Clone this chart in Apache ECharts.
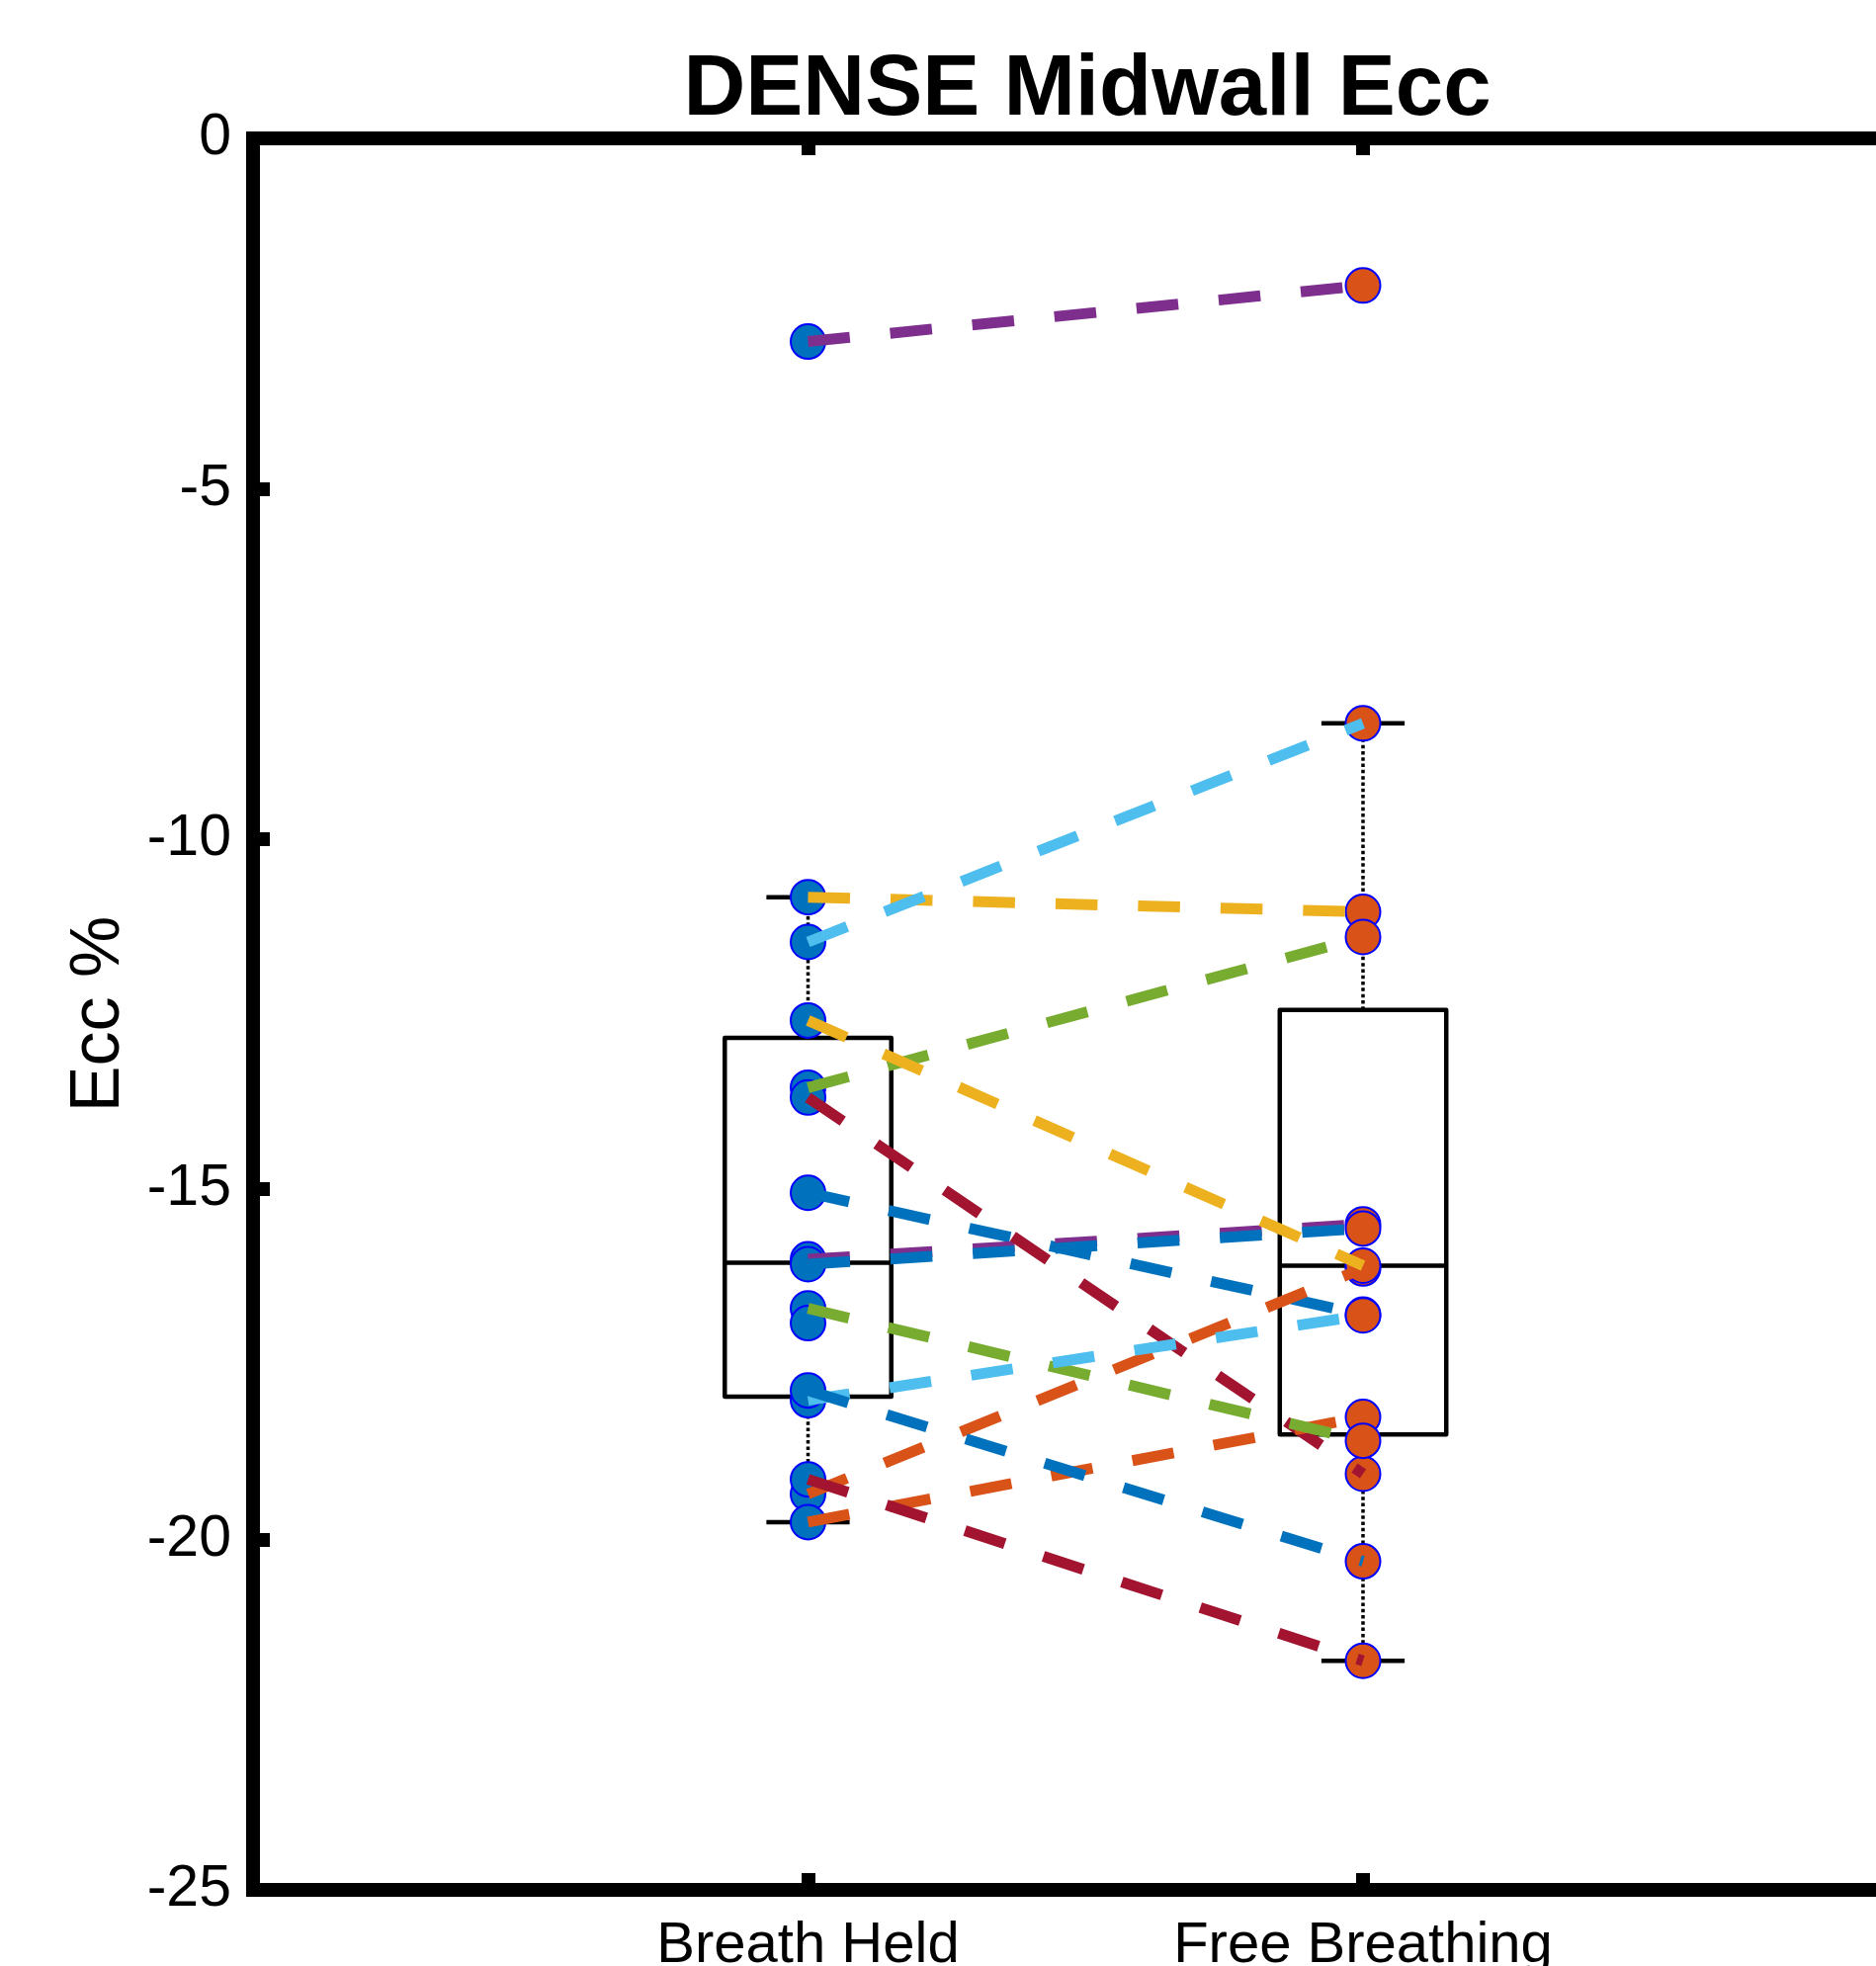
<!DOCTYPE html>
<html>
<head>
<meta charset="utf-8">
<title>DENSE Midwall Ecc</title>
<script src="https://cdn.jsdelivr.net/npm/echarts@6.0.0/dist/echarts.min.js"></script>
<style>
  html, body { margin: 0; padding: 0; background: #ffffff; }
  #chart { width: 1898px; height: 1989px; }
</style>
</head>
<body>
<div id="chart"></div>
<script>
// ---------------- data ----------------
const categories = ['Breath Held', 'Free Breathing'];
const chartTitle = 'DENSE Midwall Ecc';
const yAxisName = 'Ecc %';

// one entry per subject, paired (Breath Held -> Free Breathing)
const breathHeld    = [-15.05, -19.35, -10.83, -16.00, -13.55, -11.47, -13.69, -16.07,
                       -19.75, -12.59,  -2.90, -16.70, -18.01, -19.14, -17.87, -16.91];
const freeBreathing = [-16.79, -16.13, -11.04, -15.50, -11.40,  -8.35, -19.06, -15.56,
                       -18.25, -16.09,  -2.10, -18.59, -16.80, -21.73, -20.31, null];

// box statistics: [lower whisker, Q1, median, Q3, upper whisker]
const boxBreathHeld    = [-19.75, -17.96, -16.05, -12.84, -10.83];
const boxFreeBreathing = [-21.73, -18.50, -16.09, -12.44, -8.35];

// y-axis ticks
const yMin = -25, yMax = 0, yStep = 5;

// MATLAB default line colour order
const lineColors = ['#0072BD', '#D95319', '#EDB120', '#7E2F8E', '#77AC30', '#4DBEEE', '#A2142F'];

// ---------------- styles ----------------
const FONT = "'Liberation Sans', Arial, Helvetica, sans-serif";
const AXIS_W = 14;
const BOX_HALF = 0.15;
const CAP_HALF = 0.075;

const chart = echarts.init(document.getElementById('chart'), null, { renderer: 'canvas' });

function axisCommon() {
  return {
    axisLine: { show: true, onZero: false, lineStyle: { color: '#000', width: AXIS_W, cap: 'square' } },
    axisTick: { show: true, inside: true, length: 17, lineStyle: { color: '#000', width: AXIS_W } },
    splitLine: { show: false },
    minorTick: { show: false }
  };
}

const boxData = [[1].concat(boxBreathHeld), [2].concat(boxFreeBreathing)];

function renderBox(params, api) {
  const x = api.value(0);
  const lo = api.value(1), q1 = api.value(2), med = api.value(3), q3 = api.value(4), hi = api.value(5);
  const tl = api.coord([x - BOX_HALF, q3]);
  const br = api.coord([x + BOX_HALF, q1]);
  const cTop = api.coord([x, q3]);
  const cHi = api.coord([x, hi]);
  const cBot = api.coord([x, q1]);
  const cLo = api.coord([x, lo]);
  const capL1 = api.coord([x - CAP_HALF, hi]);
  const capR1 = api.coord([x + CAP_HALF, hi]);
  const capL2 = api.coord([x - CAP_HALF, lo]);
  const capR2 = api.coord([x + CAP_HALF, lo]);
  const mL = api.coord([x - BOX_HALF, med]);
  const mR = api.coord([x + BOX_HALF, med]);
  const dotted = { stroke: '#000', lineWidth: 3.5, lineDash: [3.5, 2.8], fill: null };
  const solid = { stroke: '#000', lineWidth: 4.5, fill: null, lineJoin: 'round' };
  return {
    type: 'group',
    children: [
      { type: 'line', shape: { x1: cTop[0], y1: cTop[1], x2: cHi[0], y2: cHi[1] }, style: dotted },
      { type: 'line', shape: { x1: cBot[0], y1: cBot[1], x2: cLo[0], y2: cLo[1] }, style: dotted },
      { type: 'line', shape: { x1: capL1[0], y1: capL1[1], x2: capR1[0], y2: capR1[1] }, style: solid },
      { type: 'line', shape: { x1: capL2[0], y1: capL2[1], x2: capR2[0], y2: capR2[1] }, style: solid },
      { type: 'rect', shape: { x: tl[0], y: tl[1], width: br[0] - tl[0], height: br[1] - tl[1] }, style: solid },
      { type: 'line', shape: { x1: mL[0], y1: mL[1], x2: mR[0], y2: mR[1] }, style: solid }
    ]
  };
}

const series = [];
series.push({
  type: 'custom',
  name: 'box',
  renderItem: renderBox,
  data: boxData,
  encode: { x: 0, y: [1, 2, 3, 4, 5] },
  silent: true,
  clip: false,
  z: 2
});
series.push({
  type: 'scatter',
  name: categories[0],
  data: breathHeld.filter(v => v != null).map(v => [1, v]),
  symbol: 'circle',
  symbolSize: 35,
  itemStyle: { color: '#0072BD', borderColor: '#0000FF', borderWidth: 2, opacity: 1 },
  silent: true,
  z: 3
});
series.push({
  type: 'scatter',
  name: categories[1],
  data: freeBreathing.filter(v => v != null).map(v => [2, v]),
  symbol: 'circle',
  symbolSize: 35,
  itemStyle: { color: '#D95319', borderColor: '#0000FF', borderWidth: 2, opacity: 1 },
  silent: true,
  z: 3
});
breathHeld.forEach((bh, i) => {
  const fb = freeBreathing[i];
  if (bh == null || fb == null) return;
  series.push({
    type: 'line',
    name: 'subject ' + (i + 1),
    data: [[1, bh], [2, fb]],
    symbol: 'none',
    showSymbol: false,
    silent: true,
    lineStyle: { color: lineColors[i % lineColors.length], width: 11, type: [42.5, 41], cap: 'butt' },
    z: 4
  });
});

const option = {
  animation: false,
  backgroundColor: '#ffffff',
  title: {
    text: chartTitle,
    left: 1100,
    top: 49,
    textAlign: 'center',
    padding: 0,
    textStyle: { fontFamily: FONT, fontSize: 87, fontWeight: 'bold', color: '#000' }
  },
  grid: {
    left: 256, top: 140, right: -42.5, bottom: 77,
    containLabel: false,
    outerBoundsMode: 'none'
  },
  xAxis: [
    Object.assign(axisCommon(), {
      type: 'value', position: 'bottom', min: 0, max: 3, interval: 1,
      axisLabel: {
        show: true, margin: 28, fontSize: 58, fontFamily: FONT, color: '#000',
        showMinLabel: true, showMaxLabel: true,
        formatter: v => (v === 1 ? categories[0] : (v === 2 ? categories[1] : ''))
      }
    }),
    Object.assign(axisCommon(), {
      type: 'value', position: 'top', min: 0, max: 3, interval: 1,
      axisLabel: { show: false }
    })
  ],
  yAxis: [
    Object.assign(axisCommon(), {
      type: 'value', position: 'left', min: yMin, max: yMax, interval: yStep,
      name: yAxisName, nameLocation: 'middle', nameGap: 120,
      nameTextStyle: { fontFamily: FONT, fontSize: 70, color: '#000' },
      axisLabel: { show: true, margin: 22, fontSize: 59, fontFamily: FONT, color: '#000' }
    }),
    Object.assign(axisCommon(), {
      type: 'value', position: 'right', min: yMin, max: yMax, interval: yStep,
      axisLabel: { show: false }
    })
  ],
  series: series
};

chart.setOption(option);
</script>
</body>
</html>
